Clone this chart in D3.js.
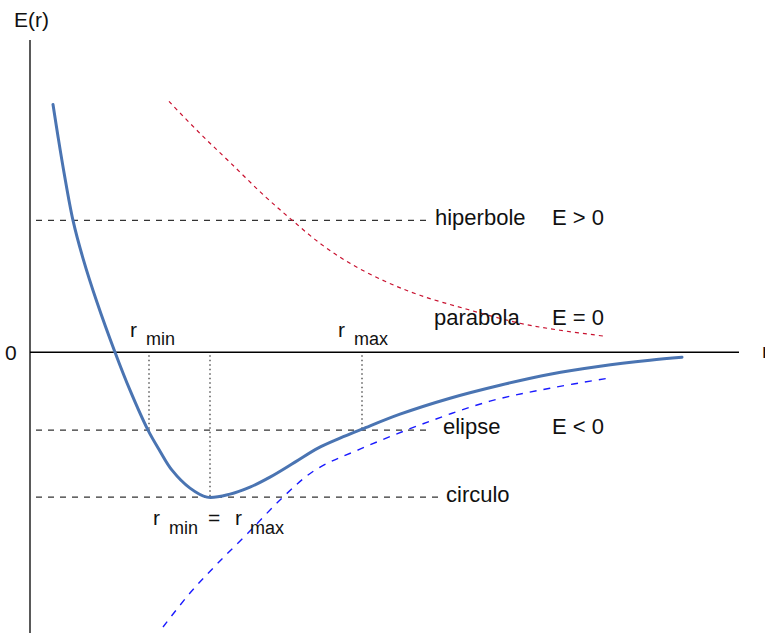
<!DOCTYPE html>
<html>
<head>
<meta charset="utf-8">
<script src="https://cdn.jsdelivr.net/npm/d3@7/dist/d3.min.js"></script>
<style>
  html, body { margin: 0; padding: 0; background: #fff; }
  svg { display: block; }
  text { font-family: "Liberation Sans", Arial, Helvetica, sans-serif; fill: #111; }
</style>
</head>
<body>
<svg id="chart" width="765" height="633"></svg>
<script>
// Effective potential E(r) and orbit energy levels (arbitrary units: r along x, E along y)
const potentialR = [0.23, 0.28, 0.34, 0.43, 0.53, 0.67, 0.85, 1.00, 1.18, 1.30, 1.42, 1.60, 1.77, 2.00, 2.20, 2.40, 2.65, 2.88, 3.10, 3.32, 3.70, 4.20, 4.70, 5.20, 5.70, 6.20, 6.52];
const potentialE = [2.48, 2.16, 1.80, 1.32, 0.94, 0.50, 0.00, -0.38, -0.78, -0.99, -1.18, -1.36, -1.45, -1.42, -1.35, -1.25, -1.10, -0.96, -0.86, -0.77, -0.62, -0.46, -0.33, -0.22, -0.14, -0.08, -0.05];

// Unbound trajectory (red dashed) and bound-orbit envelope (blue dashed)
const parabolaR = [1.39, 1.70, 2.00, 2.35, 2.60, 2.90, 3.20, 3.55, 3.90, 4.37, 4.90, 5.30, 5.75];
const parabolaE = [2.51, 2.19, 1.90, 1.56, 1.34, 1.09, 0.89, 0.71, 0.57, 0.43, 0.29, 0.22, 0.16];
const ellipseR = [1.33, 1.60, 1.87, 2.18, 2.53, 2.85, 3.30, 3.92, 4.60, 5.20, 5.78];
const ellipseE = [-2.75, -2.41, -2.12, -1.81, -1.45, -1.18, -0.97, -0.72, -0.49, -0.36, -0.26];

// Energy levels and their labels
const levels = [
  { name: "hiperbole", E: 1.32, rEnd: 3.98, cond: "E > 0" },
  { name: "parabola", E: 0.00, rEnd: null, cond: "E = 0" },
  { name: "elipse", E: -0.78, rEnd: 4.02, cond: "E < 0" },
  { name: "circulo", E: -1.45, rEnd: 4.08, cond: "" }
];

// Turning points: r_min and r_max for the ellipse, and the circular orbit
const turningR = [1.19, 1.80, 3.32];
const turningE = [-0.78, -1.45, -0.78];

const svg = d3.select("#chart");
const x = d3.scaleLinear().domain([0, 7.09]).range([30, 739]);
const y = d3.scaleLinear().domain([-2.81, 3.125]).range([633, 40]);

const line = d3.line().x(d => x(d[0])).y(d => y(d[1])).curve(d3.curveCatmullRom.alpha(0.5));
const zip = (a, b) => a.map((v, i) => [v, b[i]]);

// Axes
svg.append("line").attr("x1", x(0)).attr("x2", x(0)).attr("y1", y(3.125)).attr("y2", 633)
  .attr("stroke", "#000").attr("stroke-width", 1.3);
svg.append("line").attr("x1", x(0)).attr("x2", x(7.09)).attr("y1", y(0)).attr("y2", y(0))
  .attr("stroke", "#000").attr("stroke-width", 1.3);

svg.append("text").attr("x", 14).attr("y", 27).attr("font-size", 21).text("E(r)");
svg.append("text").attr("x", 5).attr("y", 360).attr("font-size", 21).text("0");
svg.append("text").attr("x", 762).attr("y", 358).attr("font-size", 21).attr("fill", "#666").text("r");

// Energy level lines
levels.filter(d => d.rEnd !== null).forEach(d => {
  svg.append("line")
    .attr("x1", x(0.06)).attr("x2", x(d.rEnd))
    .attr("y1", y(d.E)).attr("y2", y(d.E))
    .attr("stroke", "#333").attr("stroke-width", 1.2)
    .attr("stroke-dasharray", "6,6");
});

// Turning-point markers
turningR.forEach((r, i) => {
  svg.append("line")
    .attr("x1", x(r)).attr("x2", x(r))
    .attr("y1", y(0) + 3).attr("y2", y(turningE[i]))
    .attr("stroke", "#333").attr("stroke-width", 1.2)
    .attr("stroke-dasharray", "1.5,3");
});

// Parabolic (E = 0) curve
svg.append("path").datum(zip(parabolaR, parabolaE)).attr("d", line)
  .attr("fill", "none").attr("stroke", "#c8102e").attr("stroke-width", 1.2)
  .attr("stroke-dasharray", "4,4");

// Bound-orbit curve
svg.append("path").datum(zip(ellipseR, ellipseE)).attr("d", line)
  .attr("fill", "none").attr("stroke", "#1a1aff").attr("stroke-width", 1.4)
  .attr("stroke-dasharray", "7,7");

// Effective potential
svg.append("path").datum(zip(potentialR, potentialE)).attr("d", line)
  .attr("fill", "none").attr("stroke", "#4a74b2").attr("stroke-width", 3)
  .attr("stroke-linejoin", "round").attr("stroke-linecap", "round");

// Level labels
const labelX = { hiperbole: 435, parabola: 434, elipse: 443, circulo: 446 };
const labelY = { hiperbole: 225, parabola: 325, elipse: 434, circulo: 502 };
levels.forEach(d => {
  svg.append("text").attr("x", labelX[d.name]).attr("y", labelY[d.name])
    .attr("font-size", 22).text(d.name);
  if (d.cond) {
    svg.append("text").attr("x", 552).attr("y", labelY[d.name])
      .attr("font-size", 22).text(d.cond);
  }
});

// Subscripted radius labels
function radiusLabel(px, py, sub) {
  const t = svg.append("text").attr("x", px).attr("y", py).attr("font-size", 21);
  t.append("tspan").text("r");
  t.append("tspan").attr("font-size", 18).attr("dx", 9).attr("dy", 8).text(sub);
  return t;
}
radiusLabel(130, 337, "min");
radiusLabel(338, 337, "max");

const eq = svg.append("text").attr("x", 153).attr("y", 525).attr("font-size", 21);
eq.append("tspan").text("r");
eq.append("tspan").attr("font-size", 18).attr("dx", 9).attr("dy", 9).text("min");
eq.append("tspan").attr("x", 208).attr("dy", -9).text("=");
eq.append("tspan").attr("x", 235).text("r");
eq.append("tspan").attr("font-size", 18).attr("x", 250).attr("dy", 9).text("max");
</script>
</body>
</html>
